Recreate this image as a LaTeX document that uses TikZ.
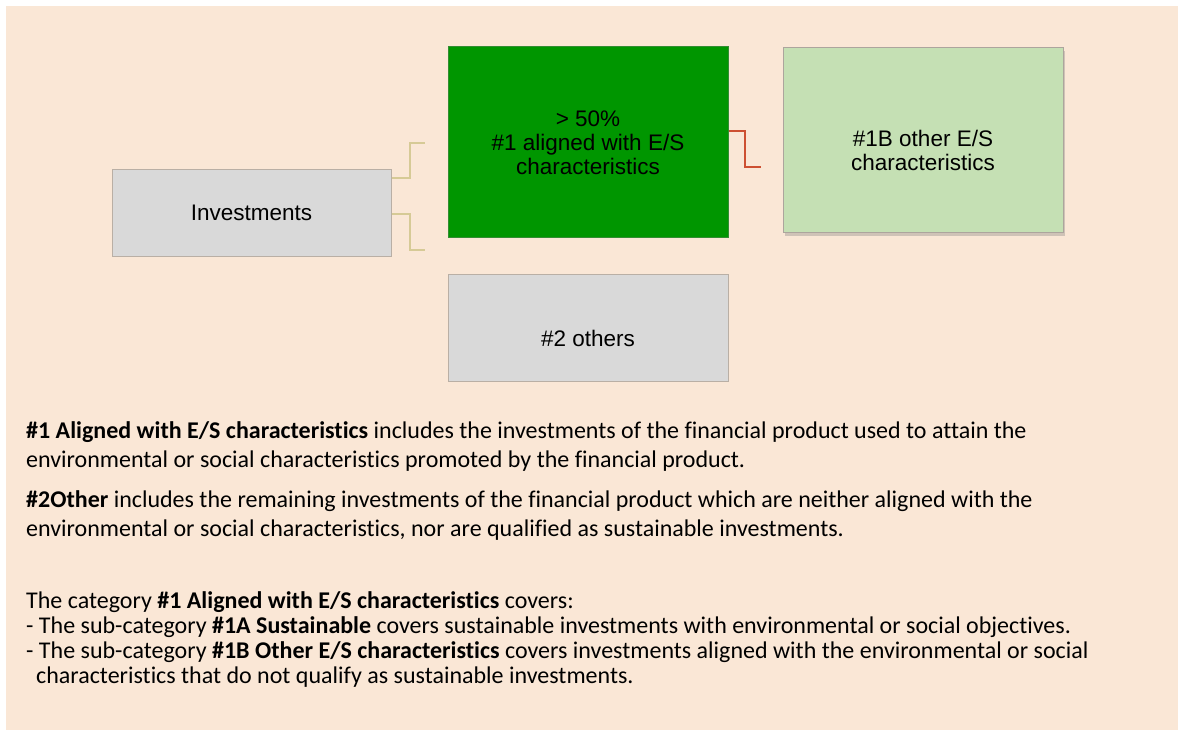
\documentclass[tikz,border=0pt]{standalone}
\usepackage{fontspec}
\setmainfont{Carlito}[Ligatures=CommonOff]
\newfontfamily\boxfont{Liberation Sans}
\usetikzlibrary{calc, positioning, shadows}

\definecolor{peach}{RGB}{250,231,214}
\definecolor{boxgray}{RGB}{217,217,217}
\definecolor{boxedge}{RGB}{185,175,165}
\definecolor{darkgrn}{RGB}{0,150,0}
\definecolor{lightgrn}{RGB}{197,224,180}
\definecolor{tanline}{RGB}{214,202,150}
\definecolor{rustline}{RGB}{205,80,50}

\tikzset{
    catbox/.style={draw=boxedge, line width=1pt, inner sep=0pt,
        font=\boxfont\fontsize{22.5}{24}\selectfont, align=center},
    boxtext/.style={inner sep=0pt, font=\boxfont\fontsize{22.5}{24}\selectfont, align=center},
    tanlink/.style={draw=tanline, line width=2pt},
    rustlink/.style={draw=rustline, line width=2pt},
    bodyline/.style={anchor=base west, inner sep=0pt, font=\fontsize{24}{29}\selectfont}
}

\begin{document}
\begin{tikzpicture}[x=1pt, y=-1pt]
    % page and background
    \useasboundingbox (0,0) rectangle (1178,730);
    \fill[white] (0,0) rectangle (1178,730);
    \fill[peach] (6,6) rectangle (1178,730);
    % boxes
    \node[catbox, fill=boxgray, minimum width=279pt, minimum height=86pt] (inv) at (251.5,213) {Investments};
    \node[catbox, fill=darkgrn, draw=darkgrn!60!gray, minimum width=280pt, minimum height=191pt] (aligned) at (588,142.5)
        {> 50\%\\ \#1 aligned with E/S\\ characteristics};
    \node[catbox, fill=lightgrn, draw=boxedge!80!gray, minimum width=280pt, minimum height=185pt,
        drop shadow={shadow xshift=2pt, shadow yshift=-3pt, opacity=0.35}] (other1b) at (923,140.5) {};
    \node[boxtext] (other1bt) at ([yshift=-10pt]other1b.center) {\#1B other E/S\\ characteristics};
    \node[catbox, fill=boxgray, minimum width=280pt, minimum height=107pt, below=35pt of aligned] (others) {};
    \node[boxtext] (otherst) at ([yshift=-11pt]others.center) {\#2 others};
    % connectors
    \coordinate (t1) at (425,143);
    \coordinate (t2) at (425,250);
    \coordinate (r1) at (761,167);
    \draw[tanlink] ($(inv.north east)+(0,9)$) -- ++(18,0) |- (t1);
    \draw[tanlink] ($(inv.east)+(0,1)$) -- ++(18,0) |- (t2);
    \draw[rustlink] ($(aligned.east)+(0,-11)$) -- ++(16,0) |- (r1);
    % explanation
    \node[bodyline] (p1a) at (26,438) {\textbf{\#1 Aligned with E/S characteristics} includes the investments of the financial product used to attain the};
    \node[bodyline] (p1b) at (26,467) {environmental or social characteristics promoted by the financial product.};
    \node[bodyline] (p2a) at (26,507) {\textbf{\#2Other} includes the remaining investments of the financial product which are neither aligned with the};
    \node[bodyline] (p2b) at (26,536) {environmental or social characteristics, nor are qualified as sustainable investments.};
    \node[bodyline] (p3a) at (26,608) {The category \textbf{\#1 Aligned with E/S characteristics} covers:};
    \node[bodyline] (p3b) at (26,633) {- The sub-category \textbf{\#1A Sustainable} covers sustainable investments with environmental or social objectives.};
    \node[bodyline] (p3c) at (26,658) {- The sub-category \textbf{\#1B Other E/S characteristics} covers investments aligned with the environmental or social};
    \node[bodyline] (p3d) at (36,683) {characteristics that do not qualify as sustainable investments.};
\end{tikzpicture}
\end{document}
